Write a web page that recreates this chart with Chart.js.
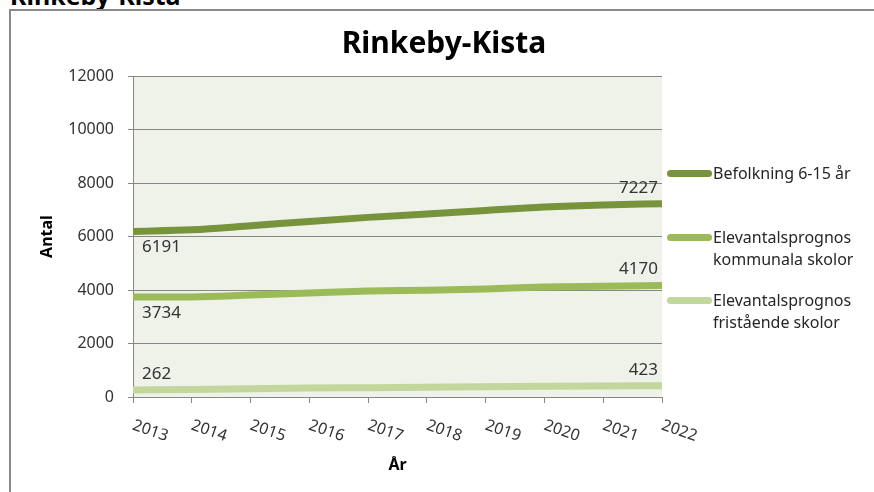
<!DOCTYPE html>
<html lang="sv">
<head>
<meta charset="utf-8">
<title>Rinkeby-Kista</title>
<script src="https://cdn.jsdelivr.net/npm/chart.js@4.4.1/dist/chart.umd.min.js"></script>
<style>
  html, body { margin: 0; padding: 0; background: #fff; }
  body { width: 874px; height: 492px; position: relative; overflow: hidden; font-family: "Noto Sans", sans-serif; color: #333; }
  .page-heading { position: absolute; left: 10px; top: -17px; font-size: 25px; line-height: 25px; font-weight: bold; color: #000; white-space: nowrap; }
  .frame { position: absolute; left: 9px; top: 9px; width: 870px; height: 500px; border: 2px solid #8a8a8a; box-sizing: border-box; }
  .chart-wrap { position: absolute; left: 14px; top: 0; width: 860px; height: 492px; }
  .legend { position: absolute; left: 667px; top: 0; }
  .legend-item { position: absolute; left: 0; width: 200px; font-size: 16px; line-height: 22px; color: #262626; }
  .legend-swatch { position: absolute; left: 0; top: 8px; width: 45px; height: 7px; border-radius: 4px; }
  .legend-text { position: absolute; left: 46px; top: 0; white-space: nowrap; }
</style>
</head>
<body>
<div class="page-heading">Rinkeby-Kista</div>
<div class="frame"></div>
<div class="chart-wrap"><canvas id="chart"></canvas></div>
<div class="legend" id="legend"></div>
<script>
  const years = ["2013", "2014", "2015", "2016", "2017", "2018", "2019", "2020", "2021", "2022"];
  const befolkning = [6191, 6250, 6400, 6565, 6715, 6840, 6975, 7100, 7180, 7227];
  const kommunala = [3734, 3740, 3810, 3890, 3960, 3990, 4040, 4110, 4140, 4170];
  const fristaende = [262, 285, 310, 335, 350, 365, 380, 400, 415, 423];
  const seriesNames = [["Befolkning 6-15 år"], ["Elevantalsprognos", "kommunala skolor"], ["Elevantalsprognos", "fristående skolor"]];
  const seriesColors = ["#77933c", "#9bbb59", "#c3d69b"];
  const yTicks = [0, 2000, 4000, 6000, 8000, 10000, 12000];

  const textColor = "#333333";
  const gridColor = "#878787";

  // plot background, rotated year labels and the end-point value labels
  const decorations = {
    id: "decorations",
    beforeDraw(chart) {
      const { ctx, chartArea: a } = chart;
      ctx.save();
      ctx.fillStyle = "#eef2e9";
      ctx.fillRect(a.left, a.top, a.right - a.left, a.bottom - a.top);
      ctx.restore();
    },
    afterDraw(chart) {
      const { ctx } = chart;
      const xScale = chart.scales.x;
      ctx.save();
      ctx.fillStyle = textColor;
      ctx.font = "16px 'Noto Sans'";
      ctx.textAlign = "left";
      ctx.textBaseline = "middle";
      years.forEach((year, i) => {
        const x = xScale.getPixelForValue(i);
        ctx.save();
        ctx.translate(x, chart.chartArea.bottom + 28);
        ctx.rotate(19 * Math.PI / 180);
        ctx.fillText(year, 0, 0);
        ctx.restore();
      });

      ctx.font = "17px 'Noto Sans'";
      const last = years.length - 1;
      chart.data.datasets.forEach((ds, d) => {
        const meta = chart.getDatasetMeta(d);
        const first = meta.data[0];
        const end = meta.data[last];
        const below = d < 2;
        ctx.textAlign = "left";
        ctx.fillText(String(ds.data[0]), first.x + 9, below ? first.y + 16 : first.y - 16);
        ctx.textAlign = "right";
        ctx.fillText(String(ds.data[last]), end.x - 4, end.y - 16);
      });
      ctx.restore();
    }
  };

  const lineDataset = (label, data, color) => ({
    label,
    data,
    borderColor: color,
    backgroundColor: color,
    borderWidth: 7,
    pointRadius: 0,
    pointHoverRadius: 0,
    tension: 0.3,
    cubicInterpolationMode: "monotone",
    fill: false
  });

  new Chart(document.getElementById("chart"), {
    type: "line",
    data: {
      labels: years,
      datasets: [
        lineDataset(seriesNames[0].join(" "), befolkning, seriesColors[0]),
        lineDataset(seriesNames[1].join(" "), kommunala, seriesColors[1]),
        lineDataset(seriesNames[2].join(" "), fristaende, seriesColors[2])
      ]
    },
    options: {
      responsive: true,
      maintainAspectRatio: false,
      animation: false,
      layout: { padding: 0 },
      plugins: {
        legend: { display: false },
        tooltip: { enabled: false },
        title: {
          display: true,
          text: "Rinkeby-Kista",
          color: "#000",
          font: { family: "'Noto Sans'", size: 30, weight: "bold", lineHeight: 1.2 },
          padding: { top: 26, bottom: 14 }
        }
      },
      scales: {
        x: {
          type: "category",
          offset: false,
          afterFit: (scale) => { scale.height = 95; },
          grid: { drawOnChartArea: false, drawTicks: true, tickLength: 6, color: gridColor },
          border: { color: gridColor },
          ticks: { display: false },
          title: {
            display: true,
            text: "År",
            color: "#000",
            font: { family: "'Noto Sans'", size: 16, weight: "bold", lineHeight: 1.2 },
            padding: { top: 0, bottom: 17 }
          }
        },
        y: {
          min: yTicks[0],
          max: yTicks[yTicks.length - 1],
          afterFit: (scale) => { scale.width = 119; },
          afterBuildTicks: (scale) => { scale.ticks = yTicks.map((v) => ({ value: v })); },
          grid: { color: gridColor, tickLength: 5 },
          border: { color: gridColor },
          ticks: { color: textColor, padding: 14, font: { family: "'Noto Sans'", size: 16 }, callback: (v) => String(v) },
          title: {
            display: true,
            text: "Antal",
            color: "#000",
            font: { family: "'Noto Sans'", size: 16, weight: "bold", lineHeight: 1.2 },
            padding: { top: 24 }
          }
        },
        // empty right-hand axis that only keeps room for the legend
        legendSpace: {
          position: "right",
          afterFit: (scale) => { scale.width = 212; },
          grid: { display: false },
          border: { display: false },
          ticks: { display: false }
        }
      }
    },
    plugins: [decorations]
  });

  // legend with wrapped names, like the original
  const legend = document.getElementById("legend");
  const legendTops = [162, 226, 289];
  seriesNames.forEach((lines, i) => {
    const item = document.createElement("div");
    item.className = "legend-item";
    item.style.top = legendTops[i] + "px";
    const swatch = document.createElement("span");
    swatch.className = "legend-swatch";
    swatch.style.background = seriesColors[i];
    const text = document.createElement("span");
    text.className = "legend-text";
    text.innerHTML = lines.join("<br>");
    item.appendChild(swatch);
    item.appendChild(text);
    legend.appendChild(item);
  });
</script>
</body>
</html>
